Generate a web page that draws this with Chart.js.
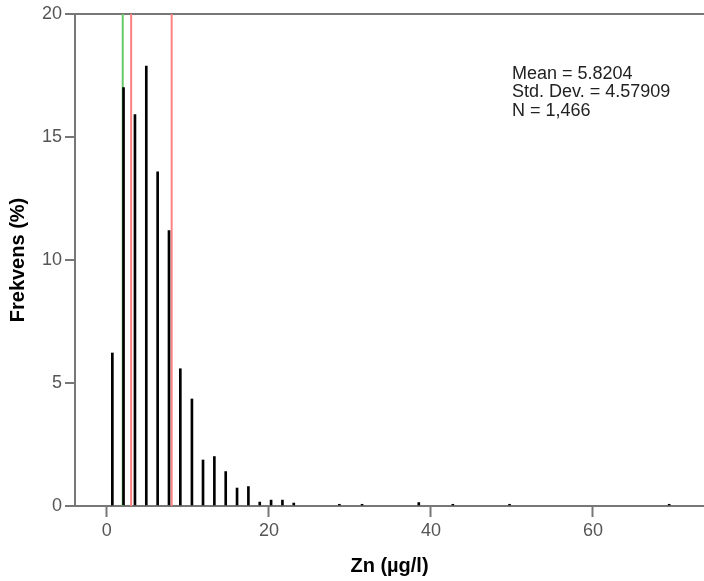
<!DOCTYPE html>
<html>
<head>
<meta charset="utf-8">
<script src="https://cdn.jsdelivr.net/npm/chart.js@4/dist/chart.umd.min.js"></script>
<style>
html,body{margin:0;padding:0;background:#fff;}
#wrap{width:704px;height:581px;position:relative;}
</style>
</head>
<body>
<div id="wrap"><canvas id="c" width="704" height="581"></canvas></div>
<script>
// Data
const binCenters = [0.68, 2.06, 3.47, 4.87, 6.27, 7.67, 9.07, 10.5, 11.87, 13.27, 14.67, 16.07, 17.47, 18.87, 20.27, 21.67, 23.07, 28.7, 31.5, 38.5, 42.7, 49.7, 69.4];
const freqPct = [6.22, 17.01, 15.91, 17.88, 13.58, 11.2, 5.58, 4.35, 1.87, 2.01, 1.40, 0.73, 0.79, 0.16, 0.24, 0.24, 0.12, 0.07, 0.07, 0.14, 0.07, 0.07, 0.07];
const refLineX = [1.96, 3.0, 8.0];
const refLineColors = ['#66c866', '#ff8080', '#ff8080'];
const xTicks = [0, 20, 40, 60];
const yTicks = [0, 5, 10, 15, 20];
const statLines = ['Mean = 5.8204', 'Std. Dev. = 4.57909', 'N = 1,466'];
const xTitle = 'Zn (µg/l)';
const yTitle = 'Frekvens (%)';

const FONT = "'Liberation Sans', Arial, sans-serif";
const AXIS = '#777777';

const datasets = [];
refLineX.forEach((v, i) => {
  datasets.push({
    type: 'line',
    data: [{x: v, y: yTicks[0]}, {x: v, y: yTicks[yTicks.length - 1]}],
    borderColor: refLineColors[i],
    borderWidth: 2,
    pointRadius: 0,
    order: 2
  });
});
datasets.push({
  type: 'bar',
  data: binCenters.map((x, i) => ({x: x, y: freqPct[i]})),
  backgroundColor: '#000000',
  barThickness: 2,
  grouped: false,
  order: 1
});

const statsPlugin = {
  id: 'stats',
  afterDraw(chart) {
    const ctx = chart.ctx;
    const a = chart.chartArea;
    ctx.save();
    ctx.fillStyle = '#222222';
    ctx.font = '18px ' + FONT;
    ctx.textBaseline = 'middle';
    ctx.textAlign = 'left';
    statLines.forEach((t, i) => {
      ctx.fillText(t, a.left + 437, a.top + 60 + i * 18.3);
    });
    ctx.restore();
  }
};

new Chart(document.getElementById('c'), {
  data: {datasets},
  options: {
    responsive: false,
    animation: false,
    layout: {padding: {top: 14, right: 0, left: 0, bottom: 0}},
    plugins: {legend: {display: false}, tooltip: {enabled: false}},
    scales: {
      x: {
        type: 'linear',
        offset: false,
        min: -3.93,
        max: 73.7,
        afterBuildTicks: s => { s.ticks = xTicks.map(v => ({value: v})); },
        afterFit: s => { s.height = 75; },
        border: {display: true, color: AXIS, width: 2},
        grid: {offset: false, drawOnChartArea: false, drawTicks: true, tickLength: 11, tickColor: AXIS, tickWidth: 2, color: AXIS},
        ticks: {color: '#555555', font: {family: FONT, size: 18}, padding: 3, maxRotation: 0},
        title: {display: true, text: xTitle, color: '#000', font: {family: FONT, size: 20, weight: 'bold'}, padding: {top: 0, bottom: 3}}
      },
      y: {
        type: 'linear',
        min: 0,
        max: 20,
        afterBuildTicks: s => { s.ticks = yTicks.map(v => ({value: v})); },
        afterFit: s => { s.width = 75; },
        border: {display: true, color: AXIS, width: 2},
        grid: {
          drawOnChartArea: true,
          drawTicks: true,
          tickLength: 10,
          tickColor: AXIS,
          tickWidth: 2,
          lineWidth: 2,
          color: c => (c.tick && c.tick.value === yTicks[yTicks.length - 1]) ? AXIS : 'rgba(0,0,0,0)'
        },
        ticks: {color: '#555555', font: {family: FONT, size: 18}, padding: 3},
        title: {display: true, text: yTitle, color: '#000', font: {family: FONT, size: 20, weight: 'bold'}, padding: {top: 6.5, bottom: 0}}
      }
    }
  },
  plugins: [statsPlugin]
});
</script>
</body>
</html>
